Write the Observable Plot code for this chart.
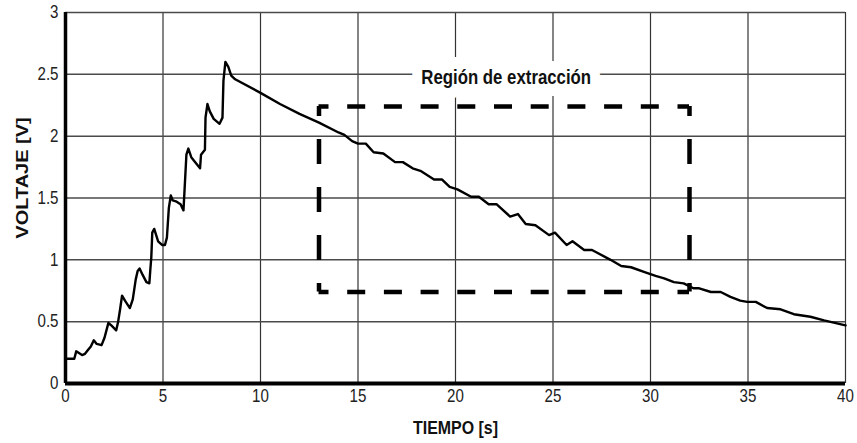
<!DOCTYPE html>
<html>
<head>
<meta charset="utf-8">
<script src="https://cdn.jsdelivr.net/npm/d3@7"></script>
<script src="https://cdn.jsdelivr.net/npm/@observablehq/plot@0.6"></script>
<style>
  html, body { margin: 0; padding: 0; background: #fff; }
</style>
</head>
<body>
<div id="chart"></div>
<script>
// ---- data ----
const time = [
  0, 0.45, 0.55, 0.65, 0.75, 0.85, 1.0, 1.15, 1.3, 1.45, 1.6, 1.85, 2.0, 2.1, 2.2, 2.35, 2.6, 2.7, 2.8, 2.9,
  3.05, 3.3, 3.45, 3.6, 3.7, 3.8, 3.95, 4.15, 4.3, 4.35, 4.4, 4.45, 4.55, 4.65, 4.75, 4.95, 5.1, 5.2, 5.3, 5.4,
  5.5, 5.7, 5.9, 6.05, 6.1, 6.2, 6.3, 6.45, 6.6, 6.9, 6.95, 7.15, 7.18, 7.28, 7.4, 7.6, 7.9, 8.05, 8.1, 8.2,
  8.35, 8.5, 8.7, 10.0, 11.0, 12.0, 13.0, 14.0, 14.3, 14.7, 15.0, 15.4, 15.8, 16.3, 16.9, 17.3, 17.8, 18.2, 18.9, 19.3,
  19.7, 20.1, 20.8, 21.2, 21.7, 22.1, 22.8, 23.2, 23.6, 24.1, 24.8, 25.1, 25.7, 26.0, 26.6, 27.0, 27.95, 28.5, 29.0, 29.7,
  30.26, 30.7, 31.2, 31.7, 32.2, 32.5, 33.1, 33.6, 34.1, 34.6, 34.96, 35.4, 35.98, 36.67, 37.35, 38.2, 38.9, 40.0
];
const voltage = [
  0.20, 0.20, 0.26, 0.25, 0.24, 0.23, 0.24, 0.27, 0.30, 0.35, 0.32, 0.31, 0.37, 0.43, 0.49, 0.47, 0.43, 0.50, 0.60, 0.71,
  0.67, 0.61, 0.68, 0.84, 0.91, 0.93, 0.88, 0.82, 0.81, 0.92, 1.02, 1.22, 1.25, 1.20, 1.15, 1.12, 1.12, 1.18, 1.42, 1.52,
  1.48, 1.47, 1.45, 1.40, 1.55, 1.85, 1.90, 1.83, 1.80, 1.74, 1.85, 1.89, 2.15, 2.26, 2.20, 2.14, 2.10, 2.15, 2.45, 2.60,
  2.56, 2.49, 2.46, 2.35, 2.26, 2.18, 2.11, 2.03, 2.01, 1.96, 1.94, 1.94, 1.87, 1.86, 1.79, 1.79, 1.74, 1.72, 1.65, 1.65,
  1.59, 1.57, 1.51, 1.51, 1.45, 1.45, 1.35, 1.37, 1.29, 1.28, 1.20, 1.22, 1.12, 1.15, 1.08, 1.08, 1.00, 0.95, 0.94, 0.90,
  0.87, 0.85, 0.82, 0.81, 0.77, 0.77, 0.74, 0.74, 0.70, 0.67, 0.66, 0.66, 0.61, 0.60, 0.56, 0.54, 0.51, 0.47
];
const xTicks = [0, 5, 10, 15, 20, 25, 30, 35, 40];
const yTicks = [0, 0.5, 1, 1.5, 2, 2.5, 3];
const yTickLabels = ["0", "0.5", "1", "1.5", "2", "2.5", "3"];
const xTitle = "TIEMPO [s]";
const yTitle = "VOLTAJE [V]";
const regionX = [13, 32];
const regionY = [0.74, 2.24];
const regionLabel = "Región de extracción";
const regionLabelPos = [22.6, 2.47];

const data = time.map((t, i) => ({t, v: voltage[i]}));
const FONT = "'Liberation Sans', Arial, sans-serif";

const chart = Plot.plot({
  width: 857,
  height: 443,
  marginLeft: 65,
  marginRight: 12,
  marginTop: 12,
  marginBottom: 60,
  style: {fontFamily: FONT, fontSize: "18px", color: "#222", background: "#fff"},
  x: {domain: [0, 40]},
  y: {domain: [0, 3]},
  marks: [
    Plot.ruleX(xTicks.slice(1), {stroke: "#333", strokeWidth: 1.2}),
    Plot.ruleY(yTicks.slice(1), {stroke: "#4a4a4a", strokeWidth: 1.5}),
    Plot.text([regionLabel], {
      x: () => regionLabelPos[0], y: () => regionLabelPos[1],
      fontSize: 20, fontWeight: "bold", fill: "#111",
      stroke: "white", strokeWidth: 24, strokeLinejoin: "round"
    }),
    Plot.line(data, {x: "t", y: "v", stroke: "black", strokeWidth: 2.4}),
    Plot.ruleY(regionY, {x1: regionX[0], x2: regionX[1], stroke: "black", strokeWidth: 4.5,
      strokeDasharray: "18,18.7", strokeDashoffset: 8}),
    Plot.ruleX(regionX, {y1: regionY[1], y2: regionY[0], stroke: "black", strokeWidth: 4.5,
      strokeDasharray: "25,23", strokeDashoffset: 15}),
    Plot.axisX({ticks: xTicks, tickSize: 0, tickPadding: 6, label: null, fontSize: 18,
      tickFormat: d => String(d)}),
    Plot.axisY({ticks: yTicks, tickSize: 0, tickPadding: 7, label: null, fontSize: 18,
      tickFormat: d => yTickLabels[yTicks.indexOf(d)]}),
    Plot.ruleX([0], {stroke: "black", strokeWidth: 3.5}),
    Plot.ruleY([0], {stroke: "black", strokeWidth: 4}),
    Plot.text([xTitle], {frameAnchor: "bottom", lineAnchor: "middle", textAnchor: "middle",
      dy: 44, fontSize: 19, fontWeight: "bold", fill: "#111"}),
    Plot.text([yTitle], {frameAnchor: "left", textAnchor: "middle", lineAnchor: "middle",
      dx: -43, dy: -20, rotate: -90, fontSize: 20, fontWeight: "bold", fill: "#111"})
  ]
});

// narrow the glyphs like the reference (tall, condensed lettering)
chart.querySelectorAll("text").forEach(t => {
  let tr = t.getAttribute("transform") || "";
  const x = t.getAttribute("x"), y = t.getAttribute("y");
  const isNum = v => v != null && /^-?[\d.]+$/.test(v);
  if (isNum(x) || isNum(y)) {
    tr += ` translate(${isNum(x) ? x : 0},${isNum(y) ? y : 0})`;
    if (isNum(x)) t.removeAttribute("x");
    if (isNum(y)) t.removeAttribute("y");
  }
  const rotated = /rotate\(/.test(tr);
  t.setAttribute("transform", tr + (rotated ? " scale(1,0.86)" : " scale(0.84,1)"));
});

document.getElementById("chart").appendChild(chart);
</script>
</body>
</html>
